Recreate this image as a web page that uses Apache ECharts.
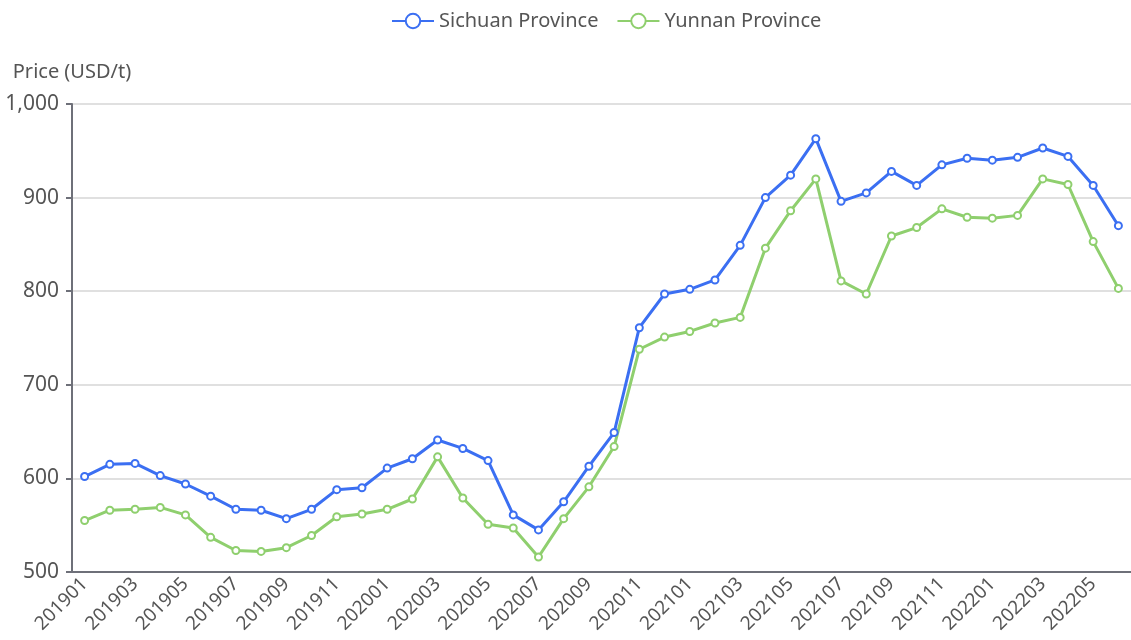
<!DOCTYPE html>
<html>
<head>
<meta charset="utf-8">
<script src="https://cdn.jsdelivr.net/npm/echarts@6/dist/echarts.min.js"></script>
<style>
html,body{margin:0;padding:0;background:#fff;}
#chart{width:1131px;height:640px;}
</style>
</head>
<body>
<div id="chart"></div>
<script>
var months = ['201901','201902','201903','201904','201905','201906','201907','201908','201909','201910','201911','201912',
'202001','202002','202003','202004','202005','202006','202007','202008','202009','202010','202011','202012',
'202101','202102','202103','202104','202105','202106','202107','202108','202109','202110','202111','202112',
'202201','202202','202203','202204','202205','202206'];
var sichuan = [602,615,616,603,594,581,567,566,557,567,588,590,
611,621,641,632,619,561,545,575,613,649,761,797,
802,812,849,900,924,963,896,905,928,913,935,942,
940,943,953,944,913,870];
var yunnan = [555,566,567,569,561,537,523,522,526,539,559,562,
567,578,623,579,551,547,516,557,591,634,738,751,
757,766,772,846,886,920,811,797,859,868,888,879,
878,881,920,914,853,803];
var seriesNames = ['Sichuan Province','Yunnan Province'];
var yAxisName = 'Price (USD/t)';

var chart = echarts.init(document.getElementById('chart'));
var FONT = '"Noto Sans", sans-serif';
chart.setOption({
  animation: false,
  textStyle: {fontFamily: FONT},
  legend: {
    left: 386, top: 6,
    itemWidth: 42, itemHeight: 18, itemGap: 18,
    textStyle: {fontSize: 20, color: '#555', fontFamily: FONT},
    data: seriesNames
  },
  grid: {left: 72, top: 104, bottom: 68, right: -8, containLabel: false},
  xAxis: {
    type: 'category',
    data: months,
    boundaryGap: true,
    axisLine: {lineStyle: {color: '#6e7079', width: 2}},
    axisTick: {alignWithLabel: true, interval: function(i){ return i % 2 === 1; }, length: 6, lineStyle: {width: 2}},
    axisLabel: {interval: 1, rotate: 45, fontSize: 19, color: '#555', margin: 9, fontFamily: FONT}
  },
  yAxis: {
    type: 'value',
    min: 500, max: 1000, interval: 100,
    name: yAxisName,
    nameGap: 22,
    nameTextStyle: {fontSize: 20, color: '#555', fontFamily: FONT},
    axisLine: {show: true, lineStyle: {color: '#6e7079', width: 2}},
    axisTick: {show: true, length: 6, lineStyle: {width: 2}},
    axisLabel: {fontSize: 21, color: '#555', margin: 13, fontFamily: FONT},
    splitLine: {lineStyle: {color: '#e0e0e0', width: 2}}
  },
  series: [
    {name: seriesNames[0], type: 'line', data: sichuan, symbol: 'emptyCircle', symbolSize: 7,
     itemStyle: {color: '#3b6ff2', borderWidth: 2}, lineStyle: {width: 3, color: '#3b6ff2'}},
    {name: seriesNames[1], type: 'line', data: yunnan, symbol: 'emptyCircle', symbolSize: 7,
     itemStyle: {color: '#8fcf6e', borderWidth: 2}, lineStyle: {width: 3, color: '#8fcf6e'}}
  ]
});
</script>
</body>
</html>
